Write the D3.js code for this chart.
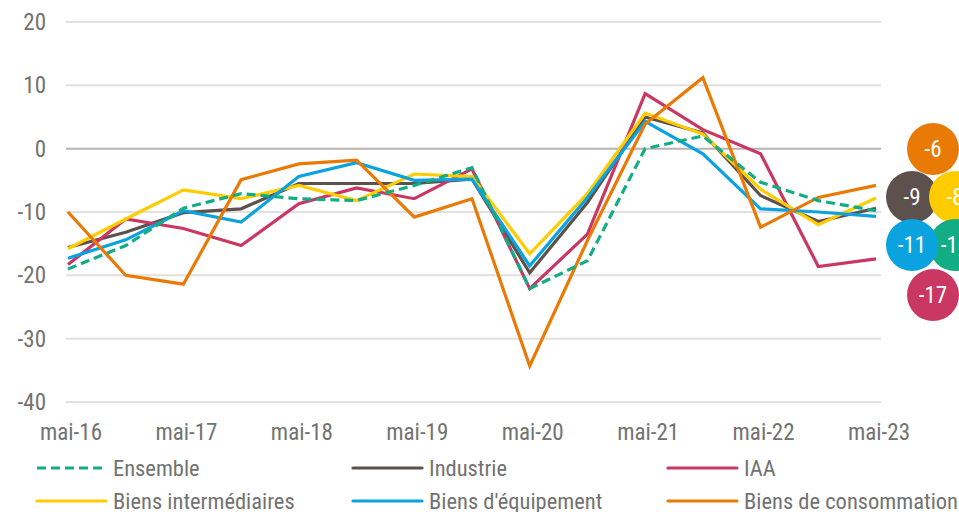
<!DOCTYPE html>
<html>
<head>
<meta charset="utf-8">
<script src="https://cdn.jsdelivr.net/npm/d3@7"></script>
<style>
    body { margin: 0; background: #fff; }
    svg text { font-family: "Liberation Sans Narrow", "Roboto Condensed", "DejaVu Sans Condensed", sans-serif; }
</style>
</head>
<body>
<svg id="chart" width="959" height="512"></svg>
<script>
// semestrial points, mai-16 .. mai-23
var periods = ["mai-16", "nov-16", "mai-17", "nov-17", "mai-18", "nov-18", "mai-19", "nov-19",
    "mai-20", "nov-20", "mai-21", "nov-21", "mai-22", "nov-22", "mai-23"];
var yTicks = [20, 10, 0, -10, -20, -30, -40];

var seriesNames = ["Ensemble", "Industrie", "IAA", "Biens intermédiaires", "Biens d'équipement", "Biens de consommation"];
var ensemble = [-19, -15.3, -9.4, -7.1, -7.9, -8.2, -5.8, -3, -22.1, -17.7, 0, 2, -5.3, -8.2, -9.8];
var industrie = [-15.6, -13.2, -10.1, -9.5, -5.5, -5.5, -5.5, -4.8, -19.6, -8.5, 5, 2.5, -7.4, -11.5, -9.4];
var iaa = [-18.3, -11.1, -12.6, -15.3, -8.7, -6.2, -7.9, -3.2, -22.1, -13.5, 8.7, 3, -0.8, -18.6, -17.4];
var intermediaires = [-15.8, -11.1, -6.5, -7.9, -5.8, -8.2, -4, -4.4, -16.6, -7.1, 5.6, 2.3, -6.4, -12, -7.8];
var equipement = [-17.3, -14.4, -9.8, -11.6, -4.4, -2.2, -5, -4.8, -18.5, -7.7, 4.3, -0.8, -9.5, -10, -10.7];
var consommation = [-10, -20, -21.4, -4.9, -2.4, -1.8, -10.8, -7.9, -34.3, -14.5, 3.9, 11.2, -12.4, -7.7, -5.8];

var colors = ["#12ad85", "#5c514d", "#c93762", "#ffcc00", "#0ba3df", "#ea7a06"];
var allValues = [ensemble, industrie, iaa, intermediaires, equipement, consommation];

var series = seriesNames.map(function (name, i) {
    return {name: name, values: allValues[i], color: colors[i], dashed: i === 0};
});

var svg = d3.select("#chart");
var textColor = "#727272";

var chartX = d3.scalePoint().domain(periods).range([68, 876]);
var chartY = d3.scaleLinear().domain([-40, 20]).range([402, 22]);

// grid
svg.append("g")
    .selectAll("line")
    .data(yTicks)
    .enter().append("line")
    .attr("x1", 66)
    .attr("x2", 881)
    .attr("y1", function (d) { return chartY(d); })
    .attr("y2", function (d) { return chartY(d); })
    .attr("stroke", function (d) { return d === 0 ? "#bab3b0" : "#e4dfdf"; })
    .attr("stroke-width", 2);

// y labels
svg.append("g")
    .selectAll("text")
    .data(yTicks)
    .enter().append("text")
    .attr("x", 46)
    .attr("y", function (d) { return chartY(d); })
    .attr("dy", "0.35em")
    .attr("text-anchor", "end")
    .attr("fill", textColor)
    .style("font-size", "23px")
    .text(function (d) { return d; });

// x labels, only mai
svg.append("g")
    .selectAll("text")
    .data(periods.filter(function (p) { return p.indexOf("mai") === 0; }))
    .enter().append("text")
    .attr("x", function (d) { return chartX(d) + 3; })
    .attr("y", 432)
    .attr("dy", "0.35em")
    .attr("text-anchor", "middle")
    .attr("fill", textColor)
    .style("font-size", "23px")
    .text(function (d) { return d; });

var valueline = d3.line()
    .x(function (d, i) { return chartX(periods[i]); })
    .y(function (d) { return chartY(d); });

// draw order: ensemble on top
var drawOrder = [1, 2, 3, 4, 5, 0];
svg.append("g")
    .selectAll("path")
    .data(drawOrder.map(function (i) { return series[i]; }))
    .enter().append("path")
    .attr("d", function (d) { return valueline(d.values); })
    .attr("fill", "none")
    .attr("stroke", function (d) { return d.color; })
    .attr("stroke-width", 3.2)
    .attr("stroke-linejoin", "miter")
    .attr("stroke-dasharray", function (d) { return d.dashed ? "9,5" : null; });

// end-value bubbles (cluster layout)
var r = 26;
var bubbleLayout = [
    {s: 1, dx: 912, dy: 197},
    {s: 3, dx: 955, dy: 197},
    {s: 0, dx: 955, dy: 245},
    {s: 4, dx: 912, dy: 245},
    {s: 5, dx: 933, dy: 149},
    {s: 2, dx: 933, dy: 295}
];
var bubbles = svg.append("g")
    .selectAll("g")
    .data(bubbleLayout)
    .enter().append("g")
    .attr("transform", function (d) { return "translate(" + d.dx + "," + d.dy + ")"; });
bubbles.append("circle")
    .attr("r", r)
    .attr("fill", function (d) { return series[d.s].color; });
bubbles.append("text")
    .attr("text-anchor", "middle")
    .attr("dy", "0.35em")
    .attr("fill", "#fff")
    .style("font-size", "23px")
    .text(function (d) {
        var v = series[d.s].values;
        return Math.round(v[v.length - 1]);
    });

// legend
var legendCols = [37, 353, 668];
var legendRows = [468, 501];
var legend = svg.append("g")
    .selectAll("g")
    .data(series)
    .enter().append("g")
    .attr("transform", function (d, i) {
        return "translate(" + legendCols[i % 3] + "," + legendRows[Math.floor(i / 3)] + ")";
    });
legend.append("line")
    .attr("x1", 0)
    .attr("x2", 69)
    .attr("stroke", function (d) { return d.color; })
    .attr("stroke-width", 3.2)
    .attr("stroke-linecap", function (d) { return d.dashed ? "butt" : "round"; })
    .attr("stroke-dasharray", function (d) { return d.dashed ? "9,5" : null; });
legend.append("text")
    .attr("x", 76)
    .attr("dy", "0.35em")
    .attr("fill", textColor)
    .style("font-size", "22.5px")
    .text(function (d) { return d.name; });
</script>
</body>
</html>
